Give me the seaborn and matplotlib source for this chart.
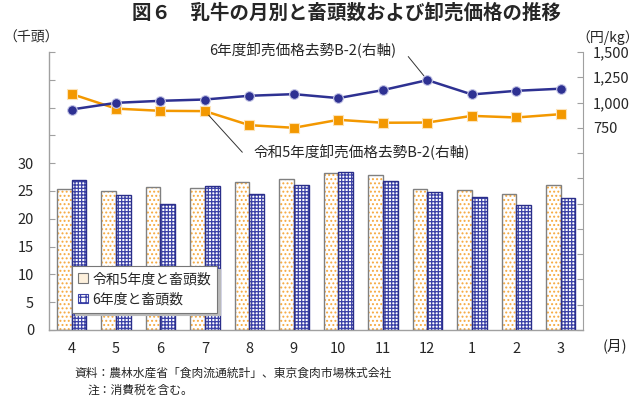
import numpy as np
import pandas as pd
import matplotlib
matplotlib.use('Agg')
import matplotlib.pyplot as plt
import seaborn as sns
from matplotlib.patches import Patch, Rectangle
from matplotlib.ticker import FixedLocator, FuncFormatter

# values
months = ['4', '5', '6', '7', '8', '9', '10', '11', '12', '1', '2', '3']
heads_r5 = [25.3, 25.0, 25.7, 25.5, 26.6, 27.2, 28.3, 27.9, 25.3, 25.1, 24.5, 26.1]
heads_r6 = [26.9, 24.3, 22.6, 25.9, 24.4, 26.0, 28.5, 26.8, 24.9, 23.9, 22.5, 23.7]
price_r5 = [1085, 940, 918, 915, 776, 750, 829, 800, 802, 868, 852, 885]
price_r6 = [931, 997, 1017, 1030, 1067, 1083, 1044, 1123, 1222, 1080, 1116, 1137]

label_r5 = '令和5年度と畜頭数'
label_r6 = '6年度と畜頭数'
line_label_r5 = '令和5年度卸売価格去勢B-2(右軸)'
line_label_r6 = '6年度卸売価格去勢B-2(右軸)'

dot_color = '#f6a940'
grid_color = '#3a40a6'
orange = '#f39800'
navy = '#2e3192'
spine_color = '#a0a0a0'

sns.set_style('white')
plt.rcParams['font.family'] = ['Noto Sans CJK JP', 'DejaVu Sans']
plt.rcParams['hatch.linewidth'] = 0.9

df = pd.DataFrame({
    'month': months * 2,
    'heads': heads_r5 + heads_r6,
    'series': [label_r5] * len(months) + [label_r6] * len(months),
})

fig = plt.figure(figsize=(6.4, 3.97), dpi=100)
ax = fig.add_axes([0.077, 0.169, 0.834, 0.700])

sns.barplot(data=df, x='month', y='heads', hue='series', order=months,
            hue_order=[label_r5, label_r6], palette=['white', 'white'],
            saturation=1, width=0.66, gap=0, legend=False, ax=ax)

# hatch colour follows edge colour, so draw outlines as separate patches
for bar in ax.containers[0]:
    bar.set_facecolor('white')
    bar.set_edgecolor(dot_color)
    bar.set_hatch('....')
    bar.set_linewidth(0)
    ax.add_patch(Rectangle(bar.get_xy(), bar.get_width(), bar.get_height(),
                           fill=False, edgecolor='#808080', lw=1.0, zorder=3))
for bar in ax.containers[1]:
    bar.set_facecolor('white')
    bar.set_edgecolor(grid_color)
    bar.set_hatch('+++++')
    bar.set_linewidth(0)
    ax.add_patch(Rectangle(bar.get_xy(), bar.get_width(), bar.get_height(),
                           fill=False, edgecolor='#2a2e8a', lw=1.0, zorder=3))

ax.set_ylim(0, 50)
ax.yaxis.set_major_locator(FixedLocator(np.arange(0, 51, 5)))
ax.yaxis.set_major_formatter(FuncFormatter(lambda v, p: f'{v:.0f}' if v <= 30 else ''))
ax.set_xlabel('')
ax.set_ylabel('')
ax.tick_params(axis='y', direction='in', length=4, color=spine_color, pad=11, labelsize=10.5)
ax.tick_params(axis='x', length=0, pad=9, labelsize=10.5)
for s in ['top', 'right']:
    ax.spines[s].set_visible(False)
for s in ['left', 'bottom']:
    ax.spines[s].set_color(spine_color)
    ax.spines[s].set_linewidth(1.0)

handles = [
    Patch(facecolor='#fdf0dc', edgecolor='#777777', lw=0.8, label=label_r5),
    Patch(facecolor='white', edgecolor=grid_color, hatch='+++', lw=0.8, label=label_r6),
]
leg = ax.legend(handles=handles, loc='lower left', bbox_to_anchor=(0.043, 0.062),
                fontsize=10, frameon=True, fancybox=False, edgecolor='#777777',
                handlelength=0.7, handleheight=0.7, handletextpad=0.3,
                labelspacing=0.45, borderpad=0.45, borderaxespad=0,
                shadow={'ox': 2, 'oy': -2, 'color': '#bbbbbb', 'alpha': 1})
leg.get_frame().set_linewidth(0.8)

ax2 = ax.twinx()
x_pos = np.arange(len(months))
sns.lineplot(x=x_pos, y=price_r5, color=orange, marker='s', markersize=7,
             markeredgecolor='#fde3b8', markeredgewidth=0.8, linewidth=1.8, ax=ax2)
sns.lineplot(x=x_pos, y=price_r6, color=navy, marker='o', markersize=7,
             markeredgecolor='#c8c9e8', markeredgewidth=0.8, linewidth=1.8, ax=ax2)

ax2.set_ylim(-1250, 1500)
ax2.yaxis.set_major_locator(FixedLocator(np.arange(-1250, 1501, 250)))
ax2.yaxis.set_major_formatter(FuncFormatter(lambda v, p: f'{v:,.0f}' if v >= 750 else ''))
ax2.tick_params(axis='y', direction='in', length=4, color=spine_color, pad=7, labelsize=10.5)
ax2.set_ylabel('')
for s in ['top', 'left']:
    ax2.spines[s].set_visible(False)
ax2.spines['right'].set_color(spine_color)
ax2.spines['bottom'].set_visible(False)
ax.set_xlim(-0.5, len(months) - 0.5)

# line labels with leader lines
ax2.text(7.3, 1520, line_label_r6, ha='right', va='center', fontsize=10.5)
ax2.annotate('', xy=(8, price_r6[8]), xytext=(7.57, 1455),
             arrowprops=dict(arrowstyle='-', color='#333333', lw=0.7, shrinkA=0, shrinkB=4))
ax2.text(4.1, 508, line_label_r5, ha='left', va='center', fontsize=10.5)
ax2.annotate('', xy=(3, price_r5[3]), xytext=(3.84, 508),
             arrowprops=dict(arrowstyle='-', color='#333333', lw=0.7, shrinkA=0, shrinkB=4))

fig.text(0.542, 0.968, '図６　乳牛の月別と畜頭数および卸売価格の推移',
         ha='center', va='center', fontsize=14, fontweight='bold')
fig.text(0.005, 0.905, '（千頭）', ha='left', va='center', fontsize=10)
fig.text(0.998, 0.905, '（円/kg）', ha='right', va='center', fontsize=10)
fig.text(0.942, 0.128, '(月)', ha='left', va='center', fontsize=10.5)
fig.text(0.117, 0.06, '資料：農林水産省「食肉流通統計」、東京食肉市場株式会社',
         ha='left', va='center', fontsize=8.5)
fig.text(0.137, 0.018, '注：消費税を含む。', ha='left', va='center', fontsize=8.5)

fig.savefig('out.png', dpi=100)
